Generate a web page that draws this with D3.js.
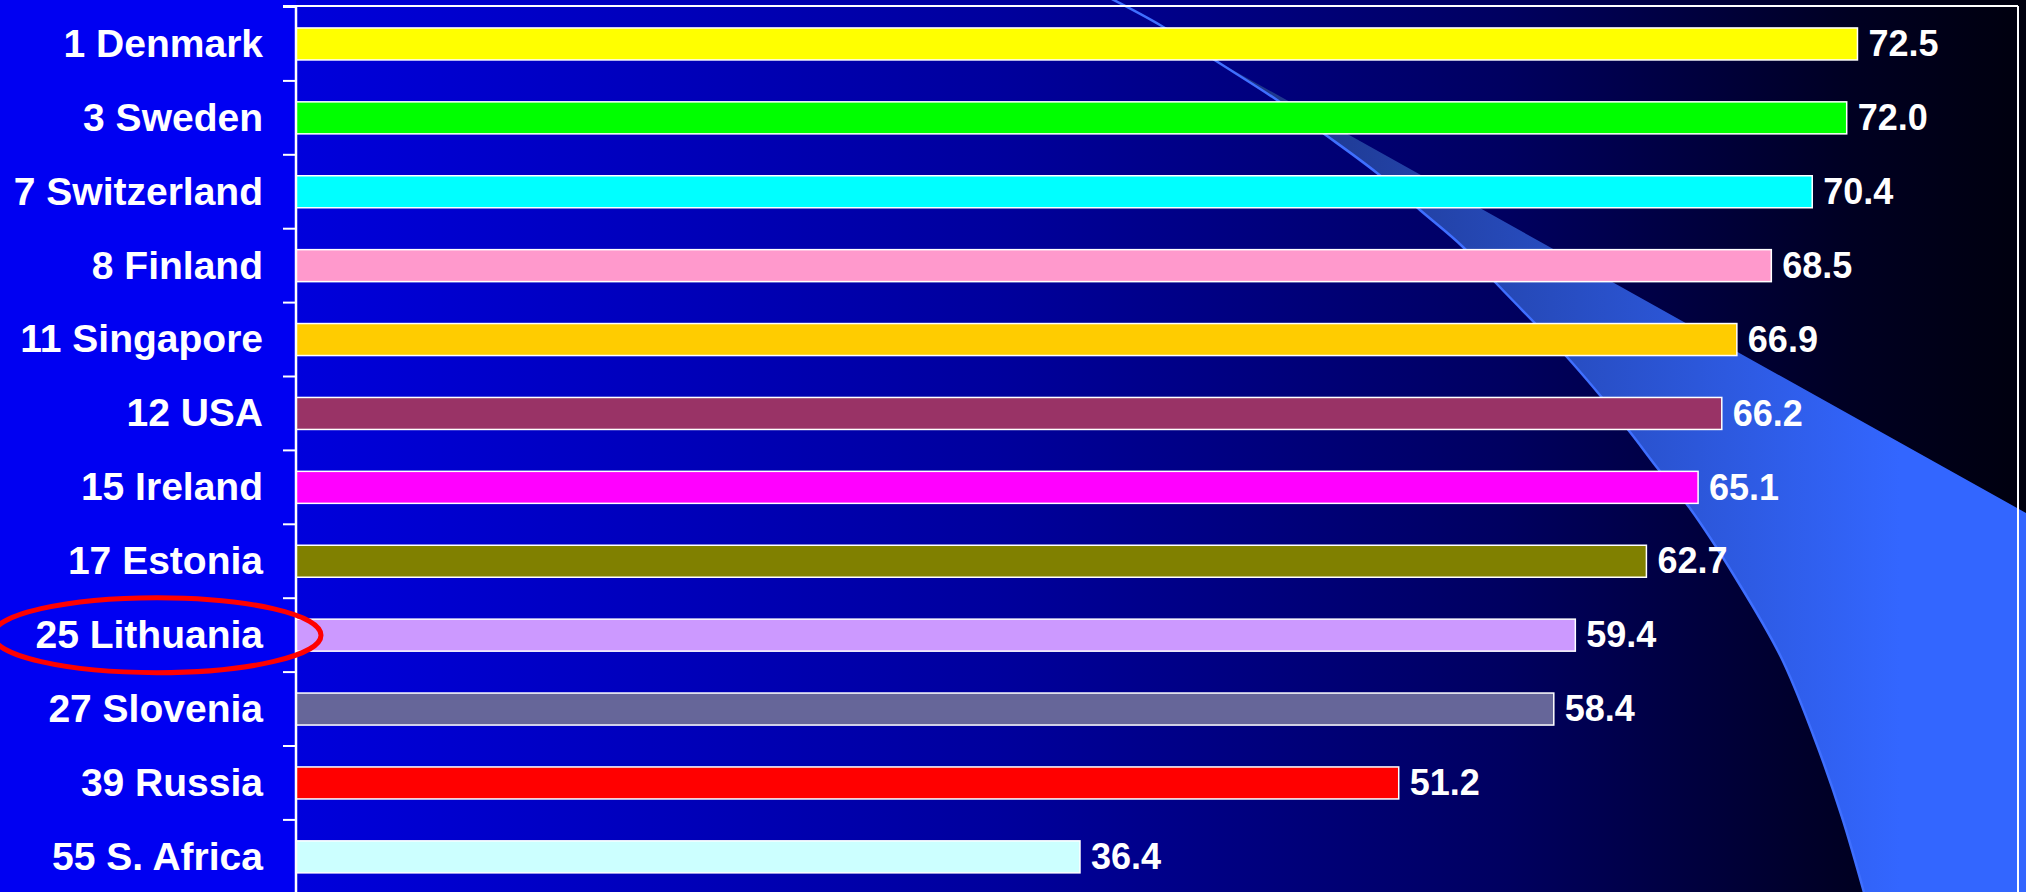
<!DOCTYPE html>
<html>
<head>
<meta charset="utf-8">
<script src="https://cdn.jsdelivr.net/npm/d3@7"></script>
<style>
  html, body { margin: 0; padding: 0; background: #0000f2; overflow: hidden; }
  svg { display: block; }
</style>
</head>
<body>
<svg id="chart"></svg>
<script>
// ranking label + score
const countries = [
  '1 Denmark', '3 Sweden', '7 Switzerland', '8 Finland', '11 Singapore', '12 USA',
  '15 Ireland', '17 Estonia', '25 Lithuania', '27 Slovenia', '39 Russia', '55 S. Africa',
];
const values = [72.5, 72.0, 70.4, 68.5, 66.9, 66.2, 65.1, 62.7, 59.4, 58.4, 51.2, 36.4];
const barColors = [
  '#ffff00', '#00ff00', '#00ffff', '#ff99cc', '#ffcc00', '#993366',
  '#ff00ff', '#808000', '#cc99ff', '#666699', '#ff0000', '#ccffff',
];
const highlighted = '25 Lithuania';

// background swoosh (decoration only)
const swooshCurve = [
  [1106, -4], [1160, 25], [1213, 59], [1277, 100], [1323, 133], [1377, 173], [1420, 210],
  [1463, 247], [1496, 283], [1567, 357], [1626, 427], [1659, 470], [1689, 507],
  [1735, 577], [1781, 657], [1814, 737], [1842, 817], [1865, 896],
];

const width = 2026;
const height = 892;
const axisX = 296;
const font = '"Liberation Sans", Arial, sans-serif';

const data = countries.map((c, i) => ({ label: c, value: values[i], color: barColors[i] }));

const svg = d3.select('#chart').attr('width', width).attr('height', height);
const defs = svg.append('defs');

const bgGrad = defs.append('linearGradient')
  .attr('id', 'plotBg')
  .attr('gradientUnits', 'userSpaceOnUse')
  .attr('x1', axisX).attr('x2', width).attr('y1', 0).attr('y2', 0);
[[0, '#0000dc'], [0.41, '#00009c'], [0.7, '#000060'], [0.9, '#000022'], [1, '#00000e']]
  .forEach(([o, c]) => bgGrad.append('stop').attr('offset', o).attr('stop-color', c));

const swGrad = defs.append('linearGradient')
  .attr('id', 'swoosh')
  .attr('gradientUnits', 'userSpaceOnUse')
  .attr('x1', 1230).attr('x2', 1900).attr('y1', 0).attr('y2', 0);
[[0, '#1c3484'], [1, '#3366ff']]
  .forEach(([o, c]) => swGrad.append('stop').attr('offset', o).attr('stop-color', c));

svg.append('rect').attr('width', width).attr('height', height).attr('fill', '#0000f2');
svg.append('rect')
  .attr('x', axisX).attr('y', 0)
  .attr('width', width - axisX).attr('height', height)
  .attr('fill', 'url(#plotBg)');

// swoosh body + its bright left edge
const curveLine = d3.line().curve(d3.curveCatmullRom);
const body = swooshCurve.slice(2);
svg.append('path')
  .attr('d', curveLine(body) + `L${width},896L${width},513Z`)
  .attr('fill', 'url(#swoosh)');
svg.append('path')
  .attr('d', curveLine(swooshCurve))
  .attr('fill', 'none')
  .attr('stroke', '#3f6fff')
  .attr('stroke-width', 2.5);

const x = d3.scaleLinear().domain([0, 80]).range([axisX, 2019]);
const y = d3.scaleBand()
  .domain(countries)
  .range([7, 7 + countries.length * 73.9])
  .paddingInner(0.567)
  .paddingOuter(0.2835);

// frame
svg.append('line')
  .attr('x1', 283).attr('x2', 2018).attr('y1', 6).attr('y2', 6)
  .attr('stroke', '#fff').attr('stroke-width', 2);
svg.append('line')
  .attr('x1', 2018).attr('x2', 2018).attr('y1', 6).attr('y2', height)
  .attr('stroke', '#fff').attr('stroke-width', 2);

// bars
svg.append('g')
  .selectAll('rect')
  .data(data)
  .join('rect')
  .attr('x', x(0))
  .attr('y', (d) => y(d.label))
  .attr('width', (d) => x(d.value) - x(0))
  .attr('height', y.bandwidth())
  .attr('fill', (d) => d.color)
  .attr('stroke', '#fff')
  .attr('stroke-width', 1.5);

// value labels
svg.append('g')
  .selectAll('text')
  .data(data)
  .join('text')
  .attr('x', (d) => x(d.value) + 11)
  .attr('y', (d) => y(d.label) + y.bandwidth() / 2)
  .attr('dy', '0.34em')
  .attr('fill', '#fff')
  .attr('font-family', font)
  .attr('font-weight', 700)
  .attr('font-size', '36px')
  .text((d) => d.value.toFixed(1));

// category axis
const yAxis = svg.append('g')
  .attr('transform', `translate(${axisX},0)`)
  .call(d3.axisLeft(y).tickSize(0).tickPadding(33));
yAxis.select('.domain').remove();
yAxis.selectAll('text')
  .attr('fill', '#fff')
  .attr('dy', '0.33em')
  .attr('font-family', font)
  .attr('font-weight', 700)
  .attr('font-size', '39px');

// ticks sit on the band boundaries
const y0 = y.range()[0];
svg.append('g')
  .selectAll('line')
  .data(d3.range(countries.length + 1))
  .join('line')
  .attr('x1', 283).attr('x2', axisX)
  .attr('y1', (i) => y0 + i * y.step())
  .attr('y2', (i) => y0 + i * y.step())
  .attr('stroke', '#fff')
  .attr('stroke-width', 2);
svg.append('line')
  .attr('x1', axisX).attr('x2', axisX).attr('y1', 6).attr('y2', height)
  .attr('stroke', '#fff').attr('stroke-width', 2.5);

// red ring round the highlighted country
svg.append('ellipse')
  .attr('cx', 157)
  .attr('cy', y(highlighted) + y.bandwidth() / 2)
  .attr('rx', 164)
  .attr('ry', 37.5)
  .attr('fill', 'none')
  .attr('stroke', '#ff0000')
  .attr('stroke-width', 5);
</script>
</body>
</html>
